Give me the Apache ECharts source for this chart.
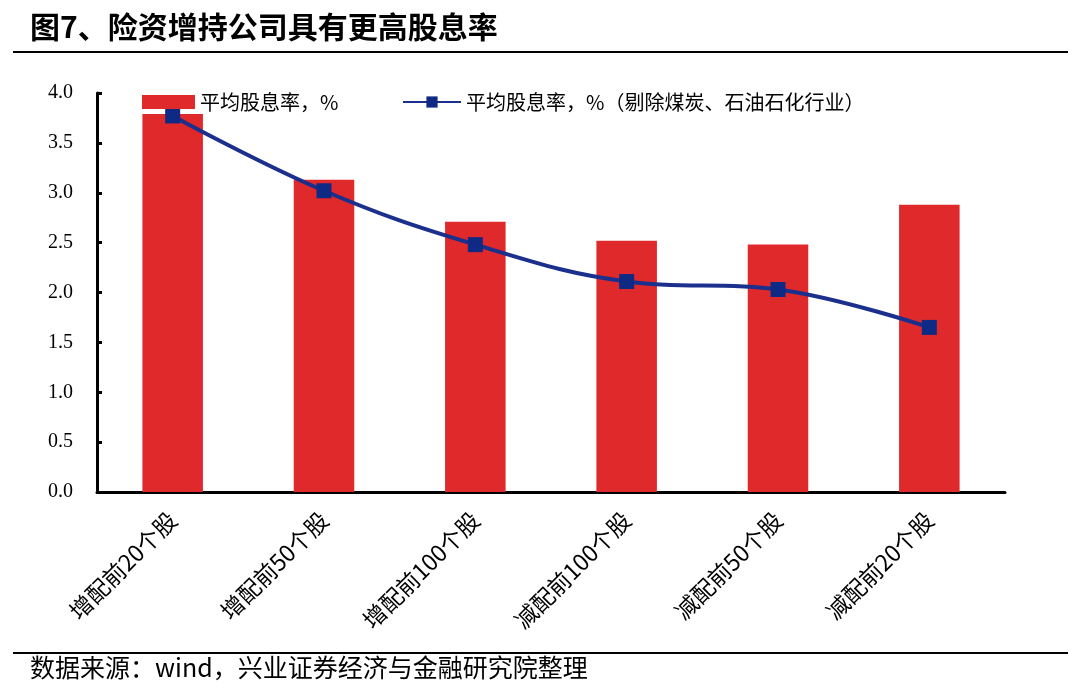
<!DOCTYPE html>
<html><head><meta charset="utf-8">
<script src="https://cdn.jsdelivr.net/npm/echarts@6/dist/echarts.min.js"></script>
<style>html,body{margin:0;padding:0;background:#fff}#c{width:1080px;height:696px}</style>
</head><body><div id="c"></div>
<script>
const categories = ['增配前20个股','增配前50个股','增配前100个股','减配前100个股','减配前50个股','减配前20个股'];
const barValues = [3.79, 3.13, 2.71, 2.52, 2.48, 2.88];
const lineValues = [3.77, 3.02, 2.48, 2.11, 2.03, 1.65];
const yTicks = [0, 0.5, 1.0, 1.5, 2.0, 2.5, 3.0, 3.5, 4.0];
const barName = '平均股息率，%';
const lineName = '平均股息率，%（剔除煤炭、石油石化行业）';

const chart = echarts.init(document.getElementById('c'));
chart.setOption({
  animation: false,
  backgroundColor: '#fff',
  grid: {left: 97, right: 75, top: 93, bottom: 204},
  legend: [
    {data: [barName], left: 137, top: 87, itemWidth: 53, itemHeight: 14, icon: 'rect', itemGap: 12,
     textStyle: {fontFamily: 'Noto Sans CJK SC', fontSize: 20, color: '#000'}},
    {data: [lineName], left: 397, top: 87, itemWidth: 58, itemHeight: 14,
     textStyle: {fontFamily: 'Noto Sans CJK SC', fontSize: 20, color: '#000'}}
  ],
  xAxis: {
    type: 'category', data: categories,
    axisLine: {lineStyle: {color: '#000', width: 3}},
    axisTick: {show: false},
    axisLabel: {rotate: 45, interval: 0, fontFamily: 'Noto Sans CJK SC', fontSize: 23, color: '#000', margin: 24}
  },
  yAxis: {
    type: 'value', min: 0, max: 4, interval: 0.5,
    axisLine: {show: true, lineStyle: {color: '#000', width: 3}},
    axisTick: {show: true, inside: true, length: 5, lineStyle: {color: '#000', width: 3}},
    splitLine: {show: false},
    axisLabel: {fontFamily: 'Liberation Serif', fontSize: 20, color: '#000', margin: 24,
      formatter: v => yTicks.includes(v) ? v.toFixed(1) : ''}
  },
  series: [
    {name: barName, type: 'bar', data: barValues, barWidth: '40%', itemStyle: {color: '#e0292a'}},
    {name: lineName, type: 'line', data: lineValues, smooth: 0.4, symbol: 'rect', symbolSize: 15,
     lineStyle: {color: '#1b2f8c', width: 4}, itemStyle: {color: '#0e2a84'}}
  ],
  graphic: [
    {type: 'text', left: 30, top: 12, style: {text: '图7、险资增持公司具有更高股息率', fontFamily: 'Noto Sans CJK SC', fontWeight: 'bold', fontSize: 30, fill: '#000'}},
    {type: 'line', shape: {x1: 13, y1: 52, x2: 1068, y2: 52}, style: {stroke: '#000', lineWidth: 2}},
    {type: 'line', shape: {x1: 13, y1: 653, x2: 1068, y2: 653}, style: {stroke: '#000', lineWidth: 2}},
    {type: 'text', left: 30, top: 655, style: {text: '数据来源：wind，兴业证券经济与金融研究院整理', fontFamily: 'Noto Sans CJK SC', fontSize: 25, fill: '#000'}}
  ]
});
</script></body></html>
